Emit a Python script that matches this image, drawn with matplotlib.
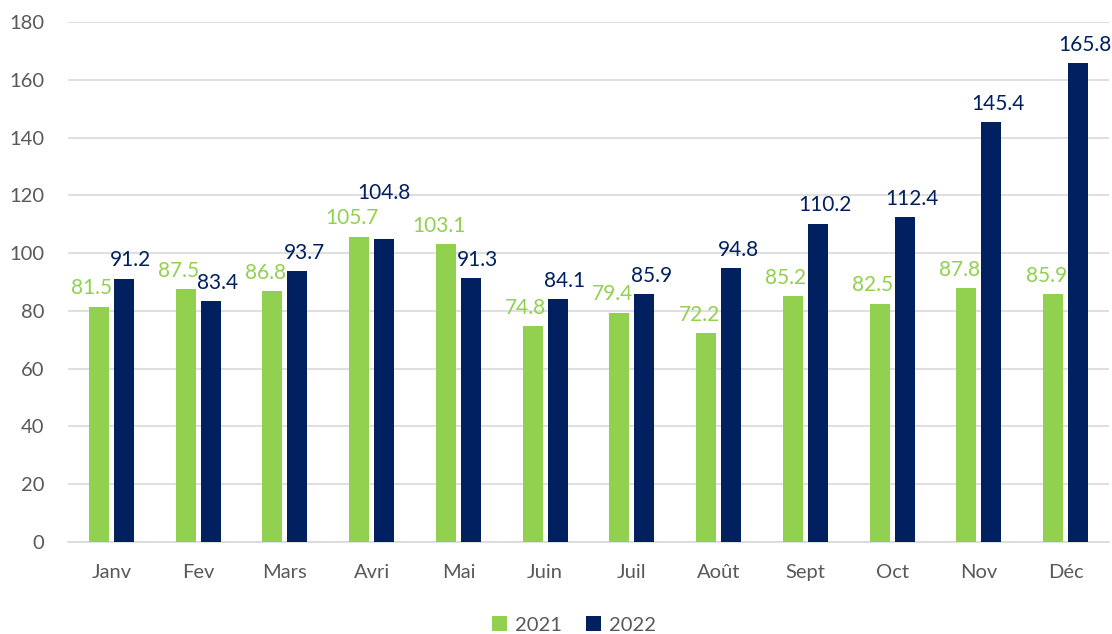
import numpy as np
import matplotlib.pyplot as plt

# donnees
mois = ['Janv', 'Fev', 'Mars', 'Avri', 'Mai', 'Juin', 'Juil', 'Août', 'Sept', 'Oct', 'Nov', 'Déc']
v2021 = [81.5, 87.5, 86.8, 105.7, 103.1, 74.8, 79.4, 72.2, 85.2, 82.5, 87.8, 85.9]
v2022 = [91.2, 83.4, 93.7, 104.8, 91.3, 84.1, 85.9, 94.8, 110.2, 112.4, 145.4, 165.8]

vert = '#92D050'
bleu = '#002060'
gris = '#595959'

plt.rcParams['font.family'] = ['Lato', 'DejaVu Sans']

fig = plt.figure(figsize=(11.12, 6.34), dpi=100)
ax = fig.add_axes([68 / 1112, 92 / 634, 1041 / 1112, 520 / 634])

x = np.arange(len(mois))
w = 0.23
off = 0.145
ax.bar(x - off, v2021, w, color=vert, label='2021', zorder=3)
ax.bar(x + off, v2022, w, color=bleu, label='2022', zorder=3)

# etiquettes de valeurs, un peu ecartees comme dans Excel
for i in range(len(mois)):
    a, b = v2021[i], v2022[i]
    lift = 20 if abs(a - b) < 4 else 0
    ax.annotate(f'{a:.1f}', (x[i] - off, a), xytext=(-5, 6), textcoords='offset points',
                ha='center', va='bottom', color=vert, fontsize=15)
    ax.annotate(f'{b:.1f}', (x[i] + off, b), xytext=(5 if not lift else 0, 6 + lift),
                textcoords='offset points', ha='center', va='bottom', color=bleu, fontsize=15)

ax.set_xlim(-0.5, len(mois) - 0.5)
ax.set_ylim(0, 180)
ax.set_yticks(range(0, 181, 20))
ax.set_xticks(x)
ax.set_xticklabels(mois)
ax.tick_params(axis='both', length=0, labelsize=14.5, labelcolor=gris)
ax.tick_params(axis='x', pad=16)
ax.tick_params(axis='y', pad=17)
ax.grid(axis='y', color='#D9D9D9', linewidth=1.2, zorder=0)
for s in ['top', 'right', 'left']:
    ax.spines[s].set_visible(False)
ax.spines['bottom'].set_color('#D9D9D9')
ax.spines['bottom'].set_linewidth(1.2)

fig.legend(loc='center', bbox_to_anchor=(0.516, 1 - 625 / 634), ncol=2, frameon=False,
           fontsize=14.5, labelcolor=gris, handlelength=0.75, handleheight=0.75,
           handletextpad=0.4, columnspacing=1.2)

fig.savefig('out.png', dpi=100)
